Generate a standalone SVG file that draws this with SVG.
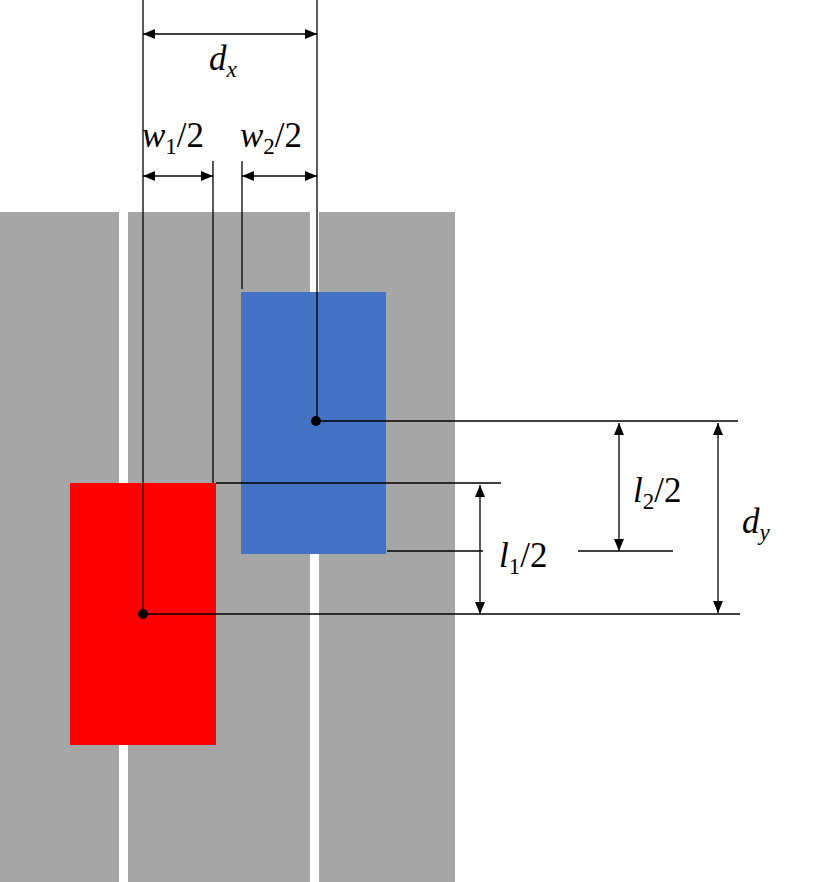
<svg xmlns="http://www.w3.org/2000/svg" width="826" height="882" viewBox="0 0 826 882">
<style>
.lane{fill:#a6a6a6}
.ln{stroke:#000;stroke-width:1.3;fill:none}
.ar{stroke:#000;stroke-width:1.3;fill:none;marker-start:url(#ah);marker-end:url(#ah)}
</style>
<defs>
<marker id="ah" viewBox="0 0 12 10" refX="12" refY="5" markerWidth="12" markerHeight="10" markerUnits="userSpaceOnUse" orient="auto-start-reverse">
<path d="M0,0 L12,5 L0,10 Z" fill="#000"/>
</marker>
</defs>
<rect width="826" height="882" fill="#fff"/>
<g id="lanes">
<rect class="lane" x="0" y="212" width="119" height="670"/>
<rect class="lane" x="128" y="212" width="182" height="670"/>
<rect class="lane" x="319" y="212" width="136" height="670"/>
</g>
<g id="vehicle1"><rect x="70" y="483" width="146" height="262" fill="#ff0000"/></g>
<g id="vehicle2"><rect x="241" y="292" width="145" height="262" fill="#4472c4"/></g>
<g id="connectors">
<line class="ln" x1="143" y1="0" x2="143" y2="614"/>
<line class="ln" x1="317" y1="0" x2="317" y2="421"/>
<line class="ln" x1="213" y1="161" x2="213" y2="483"/>
<line class="ln" x1="242" y1="161" x2="242" y2="289"/>
<line class="ln" x1="316" y1="421" x2="738" y2="421"/>
<line class="ln" x1="216" y1="483" x2="501" y2="483"/>
<line class="ln" x1="387" y1="551" x2="483" y2="551"/>
<line class="ln" x1="578" y1="551" x2="673" y2="551"/>
<line class="ln" x1="143" y1="614" x2="740" y2="614"/>
<line class="ar" x1="143" y1="34" x2="317" y2="34"/>
<line class="ar" x1="143" y1="176" x2="213" y2="176"/>
<line class="ar" x1="242" y1="176" x2="317" y2="176"/>
<line class="ar" x1="480" y1="485" x2="480" y2="614"/>
<line class="ar" x1="619" y1="423" x2="619" y2="551"/>
<line class="ar" x1="718" y1="423" x2="718" y2="613"/>
<circle cx="143" cy="614" r="5" fill="#000"/>
<circle cx="316" cy="421" r="5" fill="#000"/>
</g>
<g id="labels" font-family="Liberation Serif, Times New Roman, serif" font-size="35" fill="#000">
<text x="209" y="70"><tspan font-style="italic">d</tspan><tspan font-style="italic" font-size="23" dy="7">x</tspan></text>
<text x="142" y="147"><tspan font-style="italic">w</tspan><tspan font-size="23" dy="7">1</tspan><tspan dy="-7">/2</tspan></text>
<text x="240" y="147"><tspan font-style="italic">w</tspan><tspan font-size="23" dy="7">2</tspan><tspan dy="-7">/2</tspan></text>
<text x="633" y="502"><tspan font-style="italic">l</tspan><tspan font-size="23" dy="7">2</tspan><tspan dy="-7">/2</tspan></text>
<text x="499" y="567"><tspan font-style="italic">l</tspan><tspan font-size="23" dy="7">1</tspan><tspan dy="-7">/2</tspan></text>
<text x="742" y="533"><tspan font-style="italic">d</tspan><tspan font-style="italic" font-size="23" dy="7">y</tspan></text>
</g>
</svg>
